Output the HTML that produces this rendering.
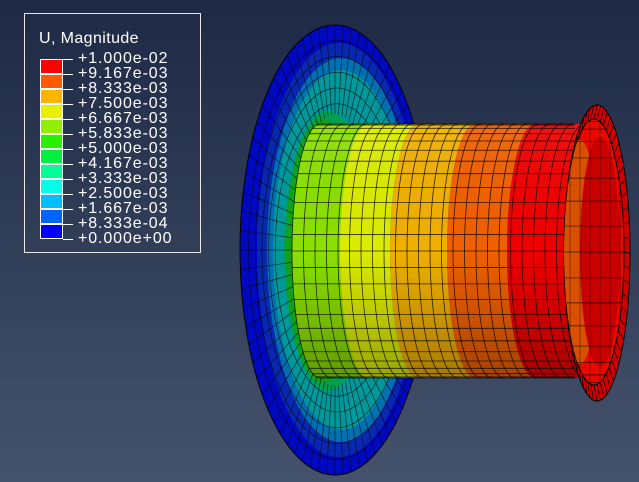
<!DOCTYPE html>
<html><head><meta charset="utf-8">
<style>
html,body{margin:0;padding:0;}
body{width:639px;height:482px;overflow:hidden;background:linear-gradient(#1e2a45,#45526b);font-family:"Liberation Sans",sans-serif;}
#legend{position:absolute;left:24px;top:13px;width:177px;height:240px;border:1px solid #e8e8e8;box-sizing:border-box;}
#lt{position:absolute;left:14px;top:16px;color:#fff;font-size:16px;letter-spacing:0.4px;}
svg{position:absolute;left:0;top:0;}
</style></head><body>
<svg id="s" width="639" height="482"></svg>
<div id="legend"><div id="lt">U, Magnitude</div></div>
<script>
const legendValues=["+1.000e-02","+9.167e-03","+8.333e-03","+7.500e-03","+6.667e-03","+5.833e-03","+5.000e-03","+4.167e-03","+3.333e-03","+2.500e-03","+1.667e-03","+8.333e-04","+0.000e+00"];
const legendColors=["#ff0000","#ff5a00","#ffb400","#e6f000","#90f000","#28f000","#00f040","#00ff96","#00ffe8","#00beff","#0064ff","#0000ff"];
const bandEdges=[292,340,390,447,507,575];
const bandColors=["#8ce000","#dcec00","#f0b000","#f06000","#f00000"];
const NS="http://www.w3.org/2000/svg";
const svg=document.getElementById('s');
function el(t,a,p){const e=document.createElementNS(NS,t);for(const k in a)e.setAttribute(k,a[k]);(p||svg).appendChild(e);return e;}
// legend
const L=document.getElementById('legend');
legendColors.forEach((c,i)=>{const d=document.createElement('div');


d.style.cssText=`position:absolute;left:15px;top:${45+i*15}px;width:23px;height:15px;background:${c};box-sizing:border-box;border:1px solid #fff;`;L.appendChild(d);});
legendValues.forEach((v,i)=>{
const t=document.createElement('div');
t.style.cssText=`position:absolute;left:38px;top:${45+i*15}px;width:10px;height:1px;background:#fff;`;L.appendChild(t);
const d=document.createElement('div');


d.style.cssText=`position:absolute;left:53px;top:${36+i*15}px;color:#fff;font-size:16px;letter-spacing:0.9px;line-height:17px;white-space:nowrap;`;d.textContent=v;L.appendChild(d);});
// defs
const defs=el('defs',{});
const g=el('linearGradient',{id:'shade',x1:0,y1:0,x2:0,y2:1},defs);
[[0,'#fff',0.08],[0.5,'#000',0],[1,'#000',0.3]].forEach(s=>el('stop',{offset:s[0],'stop-color':s[1],'stop-opacity':s[2]},g));
const cp=el('clipPath',{id:'hole'},defs);
el('ellipse',{cx:594,cy:252,rx:30,ry:133},cp);
// flange
const flange=[[335,250,95,225,'#0008c0'],[339,250,82,207,'#0828b0'],[341,250,74,192,'#0070b0'],[341,250,68,180,'#00989a'],[328,251,44,140,'#00a050'],[322,251,36,132,'#10a020']];
flange.forEach((f,i)=>{const e=el('ellipse',{cx:f[0],cy:f[1],rx:f[2],ry:f[3],fill:f[4],stroke:i==0?'#000':'none','stroke-width':1});

});
for(let k=0;k<72;k++){const a=k/72*2*Math.PI;
el('line',{x1:335+40*Math.cos(a),y1:250+136*Math.sin(a),x2:335+95*Math.cos(a),y2:250+225*Math.sin(a),stroke:'#000','stroke-width':0.7,'stroke-opacity':0.7});}
[0.93,0.86,0.79,0.72,0.65].forEach(r=>el('ellipse',{cx:337,cy:250,rx:95*r,ry:225*r,fill:'none',stroke:'#000','stroke-width':0.7,'stroke-opacity':0.7}));
// cylinder
const cy=251,ry=127,rx=28,xr=580;
function arcPts(x0){let p=[];for(let i=0;i<=40;i++){const t=i/40*Math.PI;p.push([x0-rx*Math.sin(t),cy-ry*Math.cos(t)]);}return p;}
for(let b=0;b<bandColors.length;b++){
 const x0=bandEdges[b]+rx, x1=bandEdges[b+1]+rx;
 const a=arcPts(x0), c=arcPts(x1).reverse();
 const d='M'+a.map(p=>p.join(',')).join('L')+'L'+c.map(p=>p.join(',')).join('L')+'Z';
 const e=el('path',{d:d,fill:bandColors[b]});
 
 
}
{const a=arcPts(bandEdges[0]+rx),c=arcPts(xr+rx).reverse();
el('path',{d:'M'+a.map(p=>p.join(',')).join('L')+'L'+c.map(p=>p.join(',')).join('L')+'Z',fill:'url(#shade)'});}
for(let x=292;x<=575;x+=11.5){const a=arcPts(x+rx);el('path',{d:'M'+a.map(p=>p.join(',')).join('L'),fill:'none',stroke:'#000','stroke-width':0.8,'stroke-opacity':0.8});}
for(let i=0;i<=24;i++){const t=i/24*Math.PI;const y=cy-ry*Math.cos(t);const x=bandEdges[0]+rx-rx*Math.sin(t);
el('line',{x1:x,y1:y,x2:575,y2:y,stroke:'#000','stroke-width':0.8,'stroke-opacity':0.8});}
// right ring
const ro=el('ellipse',{cx:597,cy:253,rx:33,ry:148,fill:'#d00000',stroke:'#000','stroke-width':1});


for(let k=0;k<60;k++){const a=k/60*2*Math.PI;el('line',{x1:597+33*Math.cos(a),y1:253+148*Math.sin(a),x2:594+30*Math.cos(a),y2:252+133*Math.sin(a),stroke:'#000','stroke-width':0.7});}
const ri=el('ellipse',{cx:594,cy:252,rx:30,ry:133,fill:'#e80a00',stroke:'#000','stroke-width':1});


const hg=el('g',{'clip-path':'url(#hole)'});
el('ellipse',{cx:580,cy:252,rx:18,ry:112,fill:'#d85000'},hg);
el('ellipse',{cx:600,cy:252,rx:20,ry:115,fill:'#c80000'},hg);
for(let i=1;i<16;i++){const y=252-133*Math.cos(i/16*Math.PI);el('line',{x1:560,y1:y,x2:630,y2:y,stroke:'#000','stroke-width':0.7,'stroke-opacity':0.8},hg);}
for(let x=570;x<626;x+=10){el('line',{x1:x,y1:110,x2:x,y2:395,stroke:'#000','stroke-width':0.6,'stroke-opacity':0.6},hg);}
</script>
</body></html>
